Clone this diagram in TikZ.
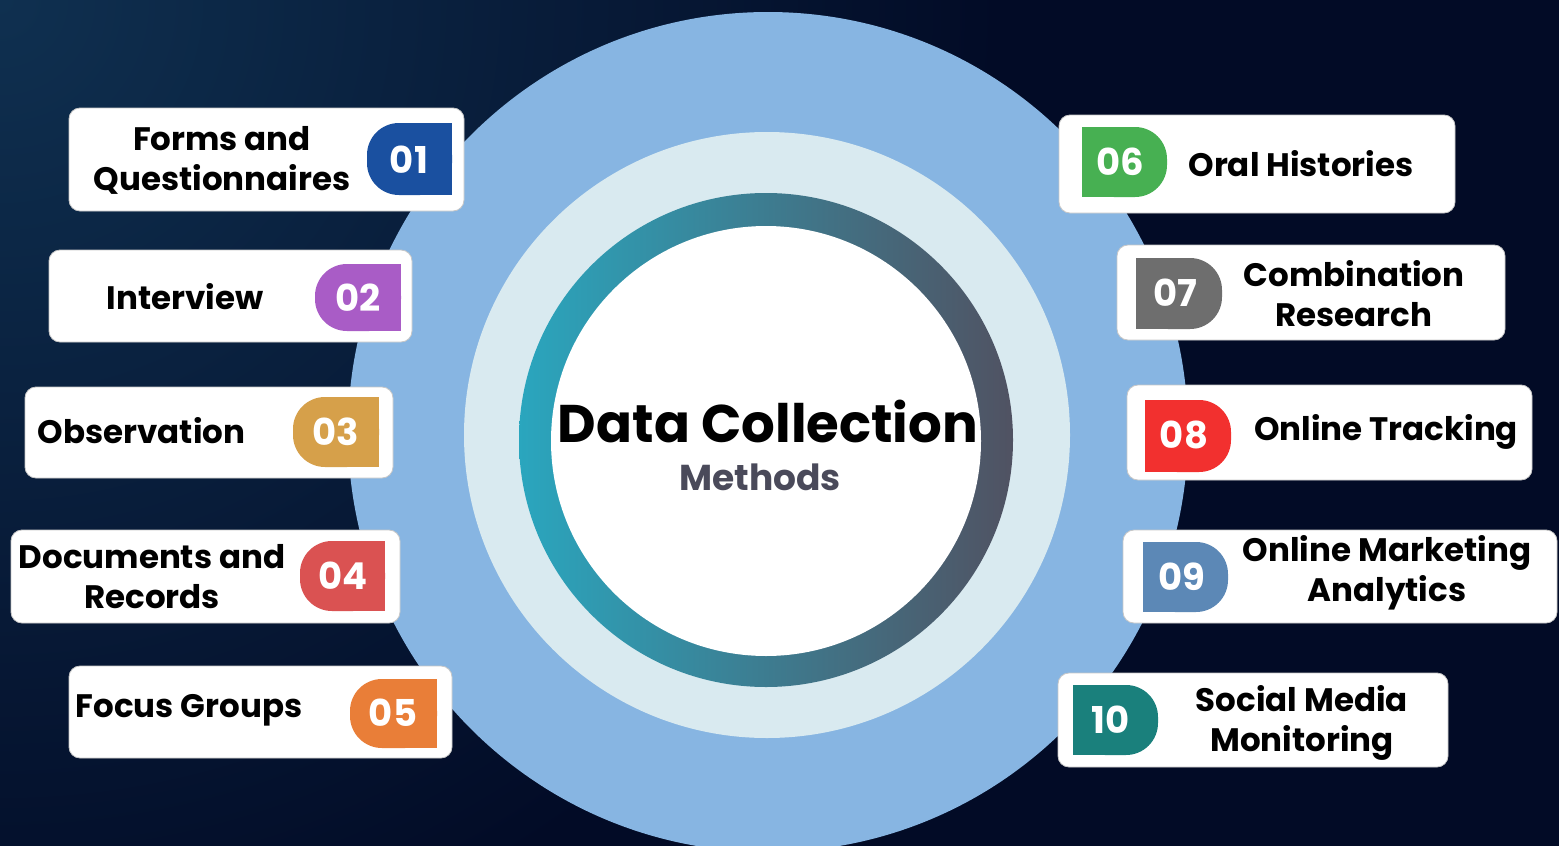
\documentclass[tikz,border=0pt]{standalone}
\usepackage{fontspec}
\setmainfont{Poppins}
\definecolor{bgdark}{HTML}{020B26}
\definecolor{bgglow}{HTML}{0F3050}
\definecolor{ringblue}{HTML}{87B5E2}
\definecolor{ringlight}{HTML}{D9EAF0}
\definecolor{ringteal}{HTML}{2AA6BE}
\definecolor{ringgray}{HTML}{505262}
\definecolor{subgray}{HTML}{4A4A5A}
\definecolor{c01}{HTML}{1A50A0}
\definecolor{c02}{HTML}{A95CC6}
\definecolor{c03}{HTML}{D6A04A}
\definecolor{c04}{HTML}{DA5252}
\definecolor{c05}{HTML}{E97E38}
\definecolor{c06}{HTML}{47B052}
\definecolor{c07}{HTML}{6E6E6E}
\definecolor{c08}{HTML}{F2302F}
\definecolor{c09}{HTML}{5C88B6}
\definecolor{c10}{HTML}{1A807C}
\begin{document}
\begin{tikzpicture}[x=1pt,y=-1pt,
  card/.style={fill=white, draw=black!22, line width=0.8pt, rounded corners=11pt, inner sep=0pt},
  lbl/.style={font=\bfseries\fontsize{32.5}{40}\selectfont, align=center, text=black, inner sep=0pt},
  num/.style={font=\bfseries\fontsize{37}{37}\selectfont, text=white, inner sep=0pt},
  badgeround/.style={rounded corners=32pt},
]
\useasboundingbox (0,0) rectangle (1559,846);
\clip (0,0) rectangle (1559,846);
% background
\fill[bgdark] (0,0) rectangle (1559,846);
\shade[inner color=bgglow, outer color=bgdark] (0,0) circle (1000);
% central circles
\fill[ringblue] (768,432) circle (420);
\fill[ringlight] (767,435) circle (303);
\shade[left color=ringteal, right color=ringgray] (766,440) circle (247);
\fill[white] (766,441) circle (215);
\node[font=\bfseries\fontsize{53}{58}\selectfont, inner sep=0pt] (title) at (768,421) {Data Collection};
\node[font=\bfseries\fontsize{36}{40}\selectfont, text=subgray, inner sep=0pt] (sub) at (760,477) {Methods};

% ---------- left cards ----------
\node[card, minimum width=395pt, minimum height=103pt] (k1) at (266.5,159.5) {};
\fill[c01, badgeround] (367,123) rectangle (452,195);
\fill[c01] (410,123) rectangle (452,195);
\node[num] (n1) at (409,160) {01};
\node[lbl] (t1) at (222,160) {Forms and\\Questionnaires};

\node[card, minimum width=363pt, minimum height=92pt] (k2) at (230.5,296) {};
\fill[c02, badgeround] (315,264) rectangle (401,331);
\fill[c02] (358,264) rectangle (401,331);
\node[num] (n2) at (358,298) {02};
\node[lbl] (t2) at (185,297) {Interview};

\node[card, minimum width=368pt, minimum height=91pt] (k3) at (209,432.5) {};
\fill[c03, badgeround] (293,397) rectangle (379,467);
\fill[c03] (336,397) rectangle (379,467);
\node[num] (n3) at (336,432) {03};
\node[lbl] (t3) at (141.5,431) {Observation};

\node[card, minimum width=389pt, minimum height=93pt] (k4) at (205.5,576.5) {};
\fill[c04, badgeround] (300,541) rectangle (385,611);
\fill[c04] (343,541) rectangle (385,611);
\node[num] (n4) at (343,576) {04};
\node[lbl] (t4) at (152,577) {Documents and\\Records};

\node[card, minimum width=383pt, minimum height=92pt] (k5) at (260.5,712) {};
\fill[c05, badgeround] (350,679) rectangle (437,748);
\fill[c05] (393,679) rectangle (437,748);
\node[num] (n5) at (393,713) {05};
\node[lbl] (t5) at (189,710) {Focus Groups};

% ---------- right cards ----------
\node[card, minimum width=396pt, minimum height=98pt] (k6) at (1257,164) {};
\fill[c06, badgeround] (1082,127) rectangle (1167,197);
\fill[c06] (1082,127) rectangle (1124,197);
\node[num] (n6) at (1120,162) {06};
\node[lbl] (t6) at (1301,164) {Oral Histories};

\node[card, minimum width=388pt, minimum height=95pt] (k7) at (1311,292.5) {};
\fill[c07, badgeround] (1136,258) rectangle (1222,329);
\fill[c07] (1136,258) rectangle (1179,329);
\node[num] (n7) at (1175,293) {07};
\node[lbl] (t7) at (1354,294) {Combination\\Research};

\node[card, minimum width=405pt, minimum height=95pt] (k8) at (1329.5,432.5) {};
\fill[c08, badgeround] (1145,400) rectangle (1231,472);
\fill[c08] (1145,400) rectangle (1188,472);
\node[num] (n8) at (1184,435) {08};
\node[lbl] (t8) at (1386,432) {Online Tracking};

\node[card, minimum width=434pt, minimum height=93pt] (k9) at (1340,576.5) {};
\fill[c09, badgeround] (1143,542) rectangle (1228,612);
\fill[c09] (1143,542) rectangle (1186,612);
\node[num] (n9) at (1182,577) {09};
\node[lbl] (t9) at (1387,573) {Online Marketing\\Analytics};

\node[card, minimum width=390pt, minimum height=94pt] (k10) at (1253,720) {};
\fill[c10, badgeround] (1073,685) rectangle (1158,755);
\fill[c10] (1073,685) rectangle (1116,755);
\node[num] (n10) at (1111,720) {10};
\node[lbl] (t10) at (1302,723) {Social Media\\Monitoring};
\end{tikzpicture}
\end{document}
